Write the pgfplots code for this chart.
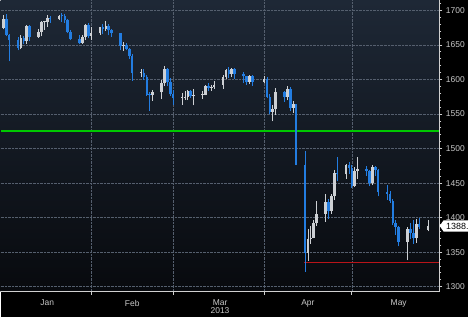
\documentclass[border=0pt]{standalone}
\usepackage{fontspec}
\setmainfont{Liberation Sans}
\usepackage{pgfplots}
\usepackage{pgfplotstable}
\pgfplotsset{compat=1.18}
\usetikzlibrary{shapes.symbols}
\definecolor{cUp}{RGB}{205,208,212}
\definecolor{cDn}{RGB}{35,125,225}
\definecolor{gridc}{RGB}{85,95,110}
\definecolor{txt}{RGB}{200,200,200}
\definecolor{bgtop}{RGB}{30,40,54}
\definecolor{bgbot}{RGB}{8,10,14}
\definecolor{cRed}{RGB}{185,20,25}

\pgfplotstableread{
d o h l c
2 1675.0 1693.8 1672.4 1687.7
8 1645.6 1664.0 1643.5 1660.7
10 1655.9 1679.6 1651.5 1677.1
14 1661.8 1673.0 1660.6 1669.4
15 1669.4 1684.5 1662.3 1682.8
16 1682.8 1684.5 1672.0 1683.4
17 1683.4 1693.3 1676.7 1688.3
21 1687.0 1693.6 1686.0 1692.5
29 1652.9 1664.5 1651.9 1662.1
30 1662.1 1680.5 1657.3 1678.4
32 1663.2 1675.3 1656.8 1667.3
35 1667.3 1676.7 1664.5 1675.8
37 1673.4 1684.6 1670.5 1677.2
43 1649.0 1654.5 1641.3 1649.3
49 1609.5 1614.7 1603.4 1609.6
53 1576.9 1584.9 1569.4 1581.2
56 1581.2 1599.6 1571.5 1594.2
57 1594.2 1619.5 1590.3 1614.6
63 1573.3 1580.7 1563.6 1573.8
64 1573.8 1583.0 1570.9 1574.6
65 1574.6 1584.6 1570.3 1583.4
67 1576.3 1586.8 1562.4 1577.0
70 1577.0 1583.5 1571.5 1577.6
71 1577.6 1592.3 1577.0 1590.9
73 1588.0 1592.6 1583.6 1589.5
74 1589.5 1597.8 1586.6 1592.7
77 1592.7 1607.2 1586.7 1603.7
78 1603.7 1615.9 1600.0 1613.3
80 1608.0 1616.8 1603.5 1614.5
86 1596.6 1607.0 1593.2 1605.7
91 1596.4 1605.5 1594.3 1600.6
94 1553.5 1562.7 1539.4 1557.2
95 1557.2 1587.5 1548.9 1581.2
99 1574.3 1590.3 1569.8 1586.3
101 1558.5 1569.5 1551.5 1564.8
106 1348.8 1383.8 1337.7 1369.4
107 1369.4 1388.5 1362.4 1371.2
108 1371.2 1396.8 1370.3 1392.5
109 1392.5 1424.1 1387.8 1405.6
112 1405.6 1433.8 1393.8 1422.6
114 1409.3 1433.9 1405.8 1431.8
115 1431.8 1468.4 1425.3 1464.1
119 1462.6 1477.3 1455.8 1475.9
122 1446.3 1473.0 1444.9 1467.7
123 1467.7 1488.0 1456.0 1470.2
128 1450.2 1475.6 1447.0 1473.0
140 1364.6 1386.7 1338.0 1383.6
143 1370.0 1397.7 1363.5 1391.5
147 1382.4 1396.0 1380.0 1388.0
}\upt

\pgfplotstableread{
d o h l c
3 1687.9 1694.6 1662.3 1665.0
4 1665.0 1665.6 1626.4 1656.5
7 1656.5 1661.5 1642.1 1645.6
9 1660.7 1662.3 1651.1 1655.9
11 1677.1 1679.3 1655.8 1661.8
18 1688.3 1691.8 1682.3 1687.0
22 1692.5 1696.6 1683.8 1691.5
23 1691.5 1695.1 1681.6 1685.4
24 1685.4 1687.7 1666.9 1668.8
25 1668.8 1672.3 1656.8 1658.3
28 1658.3 1664.0 1651.2 1652.9
31 1678.4 1682.3 1659.5 1663.2
36 1675.8 1679.9 1665.4 1673.4
38 1677.2 1680.9 1663.8 1671.0
39 1671.0 1672.4 1661.5 1667.4
42 1667.4 1667.9 1642.3 1649.0
44 1649.3 1653.1 1642.1 1644.3
45 1644.3 1646.3 1630.1 1634.5
46 1634.5 1637.6 1598.0 1609.5
50 1609.6 1615.3 1598.9 1603.0
51 1603.0 1606.0 1576.7 1578.0
52 1578.0 1582.2 1554.6 1576.9
58 1614.6 1616.3 1590.0 1596.0
59 1596.0 1602.1 1576.1 1578.6
60 1578.6 1584.3 1563.2 1573.3
66 1583.4 1585.0 1572.9 1576.3
72 1590.9 1594.4 1583.6 1588.0
79 1613.3 1617.5 1602.7 1608.0
81 1614.5 1616.0 1601.3 1607.3
84 1607.3 1610.9 1594.6 1604.5
85 1604.5 1605.7 1592.0 1596.6
87 1605.7 1606.3 1590.8 1596.4
92 1600.6 1603.1 1572.6 1575.2
93 1575.2 1578.9 1549.6 1553.5
98 1581.2 1583.7 1567.5 1574.3
100 1586.3 1589.0 1554.0 1558.5
102 1564.8 1564.9 1476.1 1476.3
105 1476.3 1497.1 1321.4 1348.8
113 1422.6 1426.3 1397.7 1409.3
116 1464.1 1487.5 1452.4 1462.6
120 1475.9 1480.1 1463.6 1472.3
121 1472.3 1476.1 1443.4 1446.3
126 1470.2 1474.9 1460.9 1468.2
127 1468.2 1468.8 1445.3 1450.2
129 1473.0 1475.0 1460.0 1468.6
130 1468.6 1471.0 1430.6 1437.4
133 1437.4 1447.1 1425.2 1434.6
134 1434.6 1439.2 1421.5 1424.6
135 1424.6 1426.5 1389.7 1392.1
136 1392.1 1396.0 1375.1 1386.8
137 1386.8 1388.0 1358.5 1364.6
141 1383.6 1392.5 1368.5 1377.8
142 1377.8 1396.8 1362.3 1370.0
144 1391.5 1399.3 1383.2 1386.4
}\dnt

\begin{document}
\begin{tikzpicture}
\fill[black] (0pt,-25pt) rectangle (470pt,293pt);
\begin{axis}[
  scale only axis, width=441pt, height=293pt,
  at={(0pt,0pt)}, anchor=south west,
  xmin=1.1, xmax=150.9, ymin=1292.5, ymax=1714.5,
  axis background/.style={shade, top color=bgtop, bottom color=bgbot},
  axis x line*=bottom, axis y line*=right,
  axis line style={draw=txt!85, -, line width=0.8pt},
  ytick={1300,1350,...,1700},
  minor ytick={1290,1310,1320,1330,1340,1360,1370,1380,1390,1410,1420,1430,1440,1460,1470,1480,1490,1510,1520,1530,1540,1560,1570,1580,1590,1610,1620,1630,1640,1660,1670,1680,1690,1710},
  y tick label style={text=txt, font=\fontsize{8.5}{9}\selectfont, /pgf/number format/1000 sep={}},
  /pgf/number format/assume math mode=true,
  ymajorgrids, xmajorgrids,
  major grid style={draw=gridc, densely dotted, line width=0.6pt},
  xtick={32,60,91,121}, xticklabels={},
  extra x ticks={17,46,76,106,137},
  extra x tick labels={Jan,Feb,{Mar\\[-1.5pt]2013},Apr,May},
  extra x tick style={grid=none, major tick length=0pt,
     xticklabel style={align=center, anchor=north, text=txt, font=\fontsize{8.5}{9}\selectfont, yshift=-4.5pt}},
  tick style={draw=txt!85, line width=0.8pt},
  tick align=outside, major tick length=3pt, minor tick length=2pt,
  clip=false,
]
% levels
\addplot[draw={rgb,255:red,0;green,200;blue,0}, line width=1.6pt, mark=none, forget plot] coordinates {(1.3,1525) (150.8,1525)};
\addplot[draw=cRed, line width=1.2pt, mark=none, forget plot] coordinates {(104.6,1335) (150.9,1335)};
% wicks
\addplot[draw=none, mark=none, forget plot,
  error bars/.cd, y dir=plus, y explicit, error mark=none,
  error bar style={draw=cUp, line width=0.8pt}]
  table[x=d, y=l, y error expr=\thisrow{h}-\thisrow{l}] {\upt};
\addplot[draw=none, mark=none, forget plot,
  error bars/.cd, y dir=plus, y explicit, error mark=none,
  error bar style={draw=cDn, line width=0.8pt}]
  table[x=d, y=l, y error expr=\thisrow{h}-\thisrow{l}] {\dnt};
% bodies
\addplot[draw=none, mark=none, forget plot,
  error bars/.cd, y dir=plus, y explicit, error mark=none,
  error bar style={draw=cUp, line width=2.6pt}]
  table[x=d, y=o, y error expr={max(\thisrow{c}-\thisrow{o},1.5)}] {\upt};
\addplot[draw=none, mark=none, forget plot,
  error bars/.cd, y dir=plus, y explicit, error mark=none,
  error bar style={draw=cDn, line width=2.6pt}]
  table[x=d, y=c, y error expr={max(\thisrow{o}-\thisrow{c},1.5)}] {\dnt};
\node[signal, signal to=west, signal pointer angle=110, fill=white, text=black,
  inner xsep=1.5pt, inner ysep=2.5pt, anchor=west, font=\fontsize{9}{10}\selectfont]
  at (axis cs:150.9,1388) {\kern1pt 1388.};
\end{axis}
\end{tikzpicture}
\end{document}
